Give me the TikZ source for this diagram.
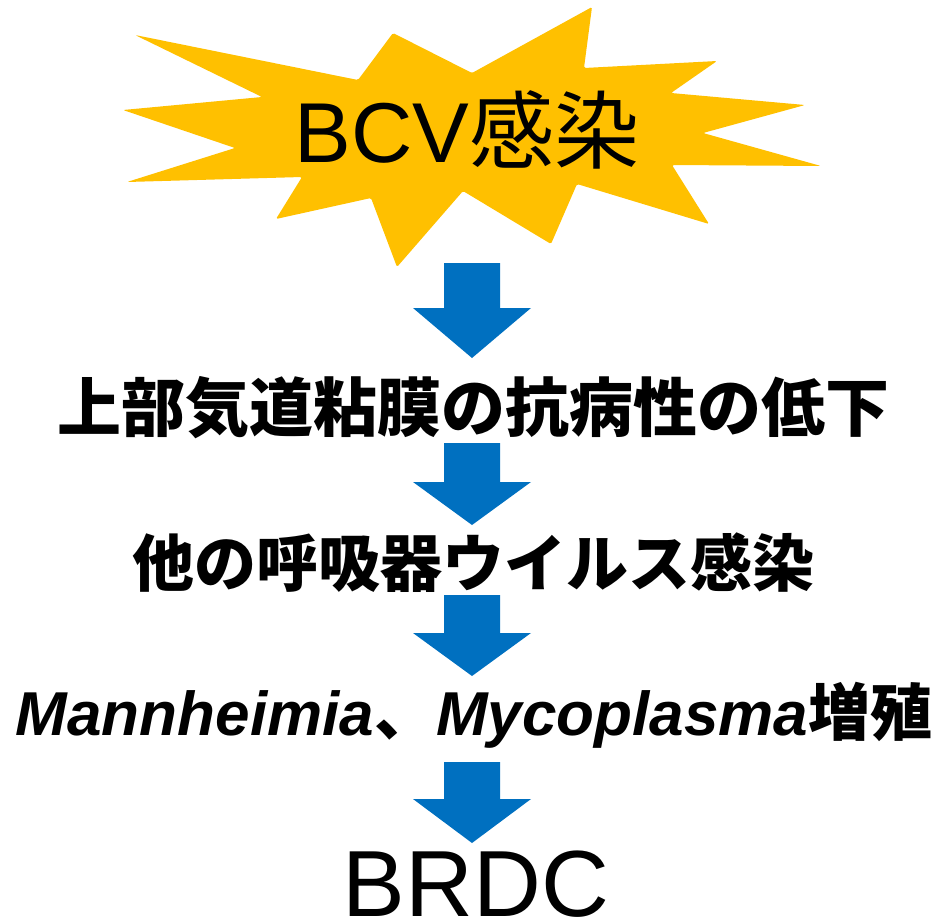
\documentclass[tikz,border=0pt]{standalone}
\usepackage{fontspec}
\setmainfont{Liberation Sans}
\newfontfamily\jpfont{Noto Sans CJK JP}
\usetikzlibrary{positioning}
\definecolor{starfill}{HTML}{FFC000}
\definecolor{arrowblue}{HTML}{0070C0}
\tikzset{
  stepline/.style={anchor=base, inner sep=0pt},
}

\begin{document}
\begin{tikzpicture}[x=1pt,y=-1pt]
          \useasboundingbox (0,0) rectangle (937,921);
          % star
          \fill[starfill, rounded corners=1.5pt] (135,35) -- (262,97) -- (123,110) -- (235,148) -- (127,182) -- (302,177) -- (276,219) -- (371,198) -- (397,267) -- (463,191) -- (551,244) -- (577,184) -- (709,224) -- (672,165) -- (821,166) -- (703,133) -- (805,105) -- (671,93) -- (717,61) -- (584,68) -- (592,7) -- (472,73) -- (393,33) -- (358,80) -- cycle;
          \node[stepline, font=\fontsize{85}{90}\selectfont] (bcv) at (467,162) {BCV{\jpfont 感染}};
          % steps
          \node[stepline, font=\jpfont\bfseries\fontsize{64}{70}\selectfont] (mucosa) at (473,431) {上部気道粘膜の抗病性の低下};
          \node[stepline, font=\jpfont\bfseries\fontsize{62}{68}\selectfont] (virus) at (473,586) {他の呼吸器ウイルス感染};
          \node[stepline, font=\bfseries\fontsize{62}{68}\selectfont] (bact) at (474,735) {\itshape Mannheimia{\jpfont\upshape 、}Mycoplasma{\jpfont\upshape 増殖}};
          \node[stepline, font=\fontsize{94}{100}\selectfont] (brdc) at (476,916) {BRDC};
          % block arrows
          \foreach \t/\h/\p in {263/308/358, 443/482/525, 595/633/676, 762/799/843}
            \fill[arrowblue] (444,\t) -- (500,\t) -- (500,\h) -- (531,\h) -- (472,\p) -- (413,\h) -- (444,\h) -- cycle;
        \end{tikzpicture}
\end{document}
